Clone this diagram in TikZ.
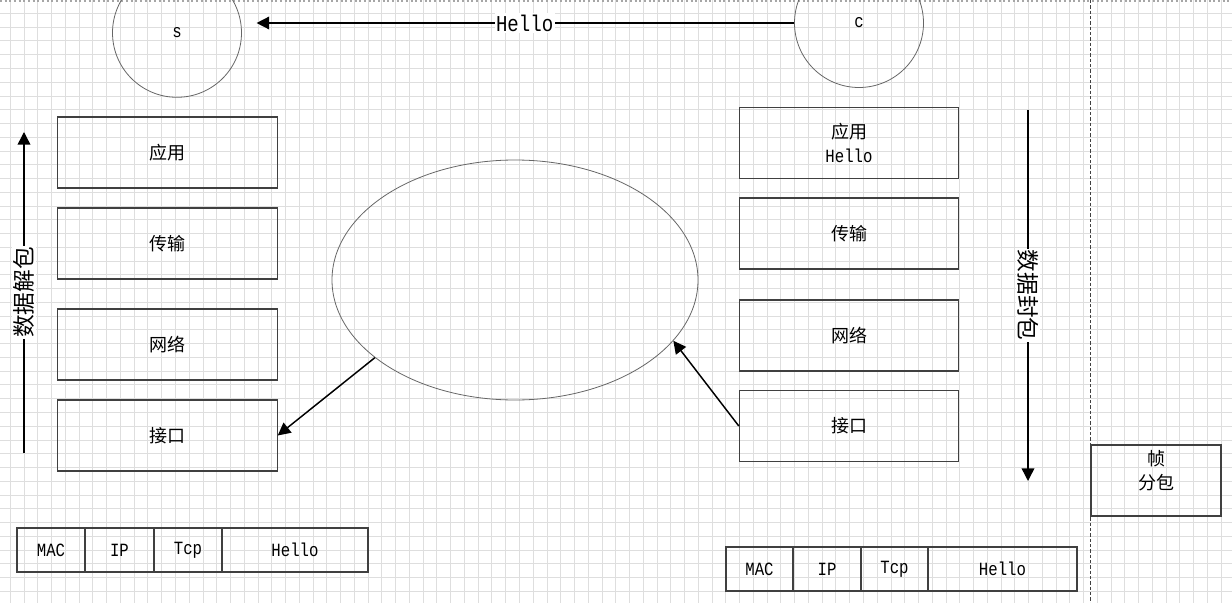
\documentclass[tikz,border=0pt]{standalone}
\usepackage{fontspec}
\setmainfont{Noto Sans CJK SC}
\newfontfamily\mono[FakeStretch=0.84]{Liberation Mono}
\usetikzlibrary{arrows.meta,shapes.geometric}

\tikzset{
  gridline/.style={black!13, line width=0.5pt},
  layer/.style={draw=black!75, line width=0.8pt, minimum width=164.5pt, minimum height=53.25pt, align=center, font=\fontsize{13.5}{18}\selectfont},
  cell/.style={draw=black!75, line width=0.8pt, minimum height=33pt, font=\mono\fontsize{14}{18}\selectfont},
  host/.style={circle, draw=black!60, line width=0.6pt, minimum size=96.75pt, font=\mono\fontsize{14}{18}\selectfont},
  flow/.style={line width=1.1pt, -{Triangle[length=9.5pt,width=9.5pt]}},
  tag/.style={fill=white, inner sep=1pt, font=\fontsize{17}{20}\selectfont},
}

\begin{document}
\begin{tikzpicture}[x=0.75pt,y=0.75pt,yscale=-1,xscale=1]
\clip (0,0) rectangle (1232,603);
\fill [white] (0,0) rectangle (1232,603);

%Grid
\foreach \i in {0,...,89} \draw [gridline] ({10.2+13.76*\i},0) -- ({10.2+13.76*\i},603);
\foreach \j in {0,...,43} \draw [gridline] (0,{13.3+13.76*\j}) -- (1232,{13.3+13.76*\j});
%Page edge
\draw [black!35, line width=1.5pt, dotted] (0,1) -- (1232,1);
%Straight Lines: separator
\draw [black!75, line width=0.6pt, dash pattern=on 2.5pt off 1.5pt] (1090,0) -- (1090,603);

%Shape: Circle
\draw (177,32.8) node (s) [host] {s};
%Shape: Circle
\draw (859,23) node (c) [host] {c};
%Straight Lines
\draw [flow, shorten >=11pt] (c.west) -- (s.east |- c.west) node (hello) [tag, pos=0.488, font=\mono\fontsize{17}{20}\selectfont] {Hello};

%Shape: Rectangle (server stack)
\draw (167.5,152.5) node (sapp) [layer] {应用};
\draw (167.5,243.5) node (strans) [layer] {传输};
\draw (167.5,344.5) node (snet) [layer] {网络};
\draw (167.5,435.5) node (sif) [layer] {接口};

%Shape: Rectangle (client stack)
\draw (849,143) node (capp) [layer] {应用\\{\mono\fontsize{14}{18}\selectfont Hello}};
\draw (849,233.5) node (ctrans) [layer] {传输};
\draw (849,335.5) node (cnet) [layer] {网络};
\draw (849,426) node (cif) [layer] {接口};

%Shape: Ellipse
\draw (515,280) node (wire) [ellipse, draw=black!60, line width=0.6pt, minimum width=274.5pt, minimum height=180pt] {};

%Straight Lines
\draw [flow] (wire.209.8) -- (sif.east);
%Straight Lines
\draw [flow] (cif.west) -- (wire.339.4);

%Straight Lines: unpacking
\coordinate (upbot) at (24,453);
\coordinate (uptop) at (24,132);
\draw [flow] (upbot) -- (uptop) node (unpack) [tag, midway, rotate=90] {数据解包};
%Straight Lines: packing
\coordinate (dntop) at (1028,109.5);
\coordinate (dnbot) at (1028,481);
\draw [flow] (dntop) -- (dnbot) node (pack) [tag, midway, rotate=-90] {数据封包};

%Shape: Rectangle (server packet)
\draw (51,550) node (smac) [cell, minimum width=51pt] {MAC};
\draw (119.5,550) node (sip) [cell, minimum width=51.75pt] {IP};
\draw (188,550) node (stcp) [cell, minimum width=51pt] {Tcp};
\draw (295,550) node (sdata) [cell, minimum width=109.5pt] {Hello};

%Shape: Rectangle (client packet)
\draw (759.5,569) node (cmac) [cell, minimum width=50.25pt] {MAC};
\draw (827,569) node (cip) [cell, minimum width=51pt] {IP};
\draw (894.5,569) node (ctcp) [cell, minimum width=50.25pt] {Tcp};
\draw (1002.5,569) node (cdata) [cell, minimum width=111.75pt] {Hello};

%Shape: Rectangle (frame)
\draw (1156,480.5) node (frame) [draw=black!75, line width=0.8pt, minimum width=97.5pt, minimum height=53.25pt] {};
% Text Node
\draw (frame.north) node (frametxt) [anchor=north, align=center, inner sep=4.5pt, font=\fontsize{13.5}{18}\selectfont] {帧\\分包};

\end{tikzpicture}
\end{document}
